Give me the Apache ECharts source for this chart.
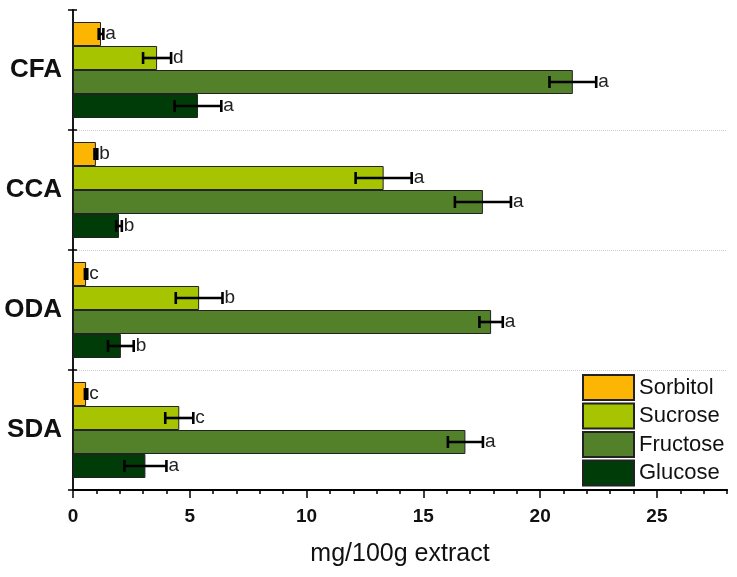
<!DOCTYPE html>
<html>
<head>
<meta charset="utf-8">
<script src="https://cdn.jsdelivr.net/npm/echarts@6/dist/echarts.min.js"></script>
<style>
  html, body { margin: 0; padding: 0; background: #fff; }
  #main { width: 737px; height: 577px; }
</style>
</head>
<body>
<div id="main"></div>
<script>
// data (mg/100g extract)
const categories = ['CFA', 'CCA', 'ODA', 'SDA']
const seriesNames = ['Sorbitol', 'Sucrose', 'Fructose', 'Glucose']
const colors = ['#FDB504', '#A6C500', '#52812A', '#003C07']

const sorbitol = [1.2, 0.98, 0.56, 0.56]
const sucrose = [3.6, 13.3, 5.4, 4.55]
const fructose = [21.4, 17.55, 17.9, 16.8]
const glucose = [5.35, 1.97, 2.05, 3.1]

const sorbitolErr = [0.1, 0.06, 0.05, 0.05]
const sucroseErr = [0.6, 1.2, 1.0, 0.6]
const fructoseErr = [1.0, 1.2, 0.5, 0.75]
const glucoseErr = [1.0, 0.12, 0.55, 0.9]

const sorbitolLetters = ['a', 'b', 'c', 'c']
const sucroseLetters = ['d', 'a', 'b', 'c']
const fructoseLetters = ['a', 'a', 'a', 'a']
const glucoseLetters = ['a', 'b', 'b', 'a']

const xTicks = [0, 5, 10, 15, 20, 25]

const values = [sorbitol, sucrose, fructose, glucose]
const errors = [sorbitolErr, sucroseErr, fructoseErr, glucoseErr]
const letters = [sorbitolLetters, sucroseLetters, fructoseLetters, glucoseLetters]

const font = '"Liberation Sans", Arial, sans-serif'
const chart = echarts.init(document.getElementById('main'), null, { renderer: 'canvas' })

// error bars + significance letters, one custom series per sugar
function errorSeries(k) {
  let data = categories.map(function (c, i) {
    return [values[k][i], i, values[k][i] - errors[k][i], values[k][i] + errors[k][i], letters[k][i]]
  })
  return {
    type: 'custom',
    name: seriesNames[k] + '_err',
    xAxisIndex: 0,
    yAxisIndex: 0,
    z: 10,
    data: data,
    encode: { x: [0, 2, 3], y: 1 },
    renderItem: function (params, api) {
      let cat = api.value(1)
      let band = api.size([0, 1])[1]
      let off = (k - 1.5) * band * 0.2
      let lo = api.coord([api.value(2), cat])
      let hi = api.coord([api.value(3), cat])
      let y = lo[1] + off
      let cap = 6
      let st = { stroke: '#000', lineWidth: 2.6 }
      return {
        type: 'group',
        children: [
          { type: 'line', shape: { x1: lo[0], y1: y, x2: hi[0], y2: y }, style: st },
          { type: 'line', shape: { x1: lo[0], y1: y - cap, x2: lo[0], y2: y + cap }, style: st },
          { type: 'line', shape: { x1: hi[0], y1: y - cap, x2: hi[0], y2: y + cap }, style: st },
          {
            type: 'text',
            x: hi[0] + 2,
            y: y,
            style: {
              text: api.value(4),
              fill: '#222',
              font: '19px ' + font,
              verticalAlign: 'middle',
              align: 'left'
            }
          }
        ]
      }
    }
  }
}

let series = []
for (let k = 0; k < 4; k++) {
  series.push({
    name: seriesNames[k],
    type: 'bar',
    xAxisIndex: 0,
    yAxisIndex: 0,
    data: values[k],
    barGap: '0%',
    barCategoryGap: '20%',
    itemStyle: { color: colors[k], borderColor: '#222', borderWidth: 1 }
  })
}
for (let k = 0; k < 4; k++) {
  series.push(errorSeries(k))
}

const option = {
  animation: false,
  backgroundColor: '#fff',
  grid: { left: 73, right: 10, top: 10, bottom: 87 },
  legend: {
    data: seriesNames,
    orient: 'vertical',
    left: 577,
    top: 369,
    itemWidth: 51,
    itemHeight: 25,
    itemGap: 1.5,
    icon: 'rect',
    textStyle: { fontSize: 22, color: '#111', fontFamily: font }
  },
  xAxis: [
    {
      type: 'value',
      min: 0,
      max: 28,
      interval: 1,
      position: 'bottom',
      axisLine: { show: true, lineStyle: { color: '#000', width: 1.8 } },
      axisTick: { show: true, length: 4, lineStyle: { color: '#000', width: 1.5 } },
      axisLabel: { show: false },
      splitLine: { show: false }
    },
    {
      type: 'value',
      min: 0,
      max: 28,
      interval: 5,
      position: 'bottom',
      axisLine: { show: true, lineStyle: { color: '#000', width: 1.8 } },
      axisTick: { show: true, length: 8, lineStyle: { color: '#000', width: 1.5 } },
      axisLabel: {
        fontSize: 19,
        fontWeight: 'bold',
        color: '#111',
        margin: 17,
        fontFamily: font,
        showMaxLabel: false,
        formatter: function (v) { return xTicks.indexOf(v) >= 0 ? String(v) : '' }
      },
      splitLine: { show: false },
      name: 'mg/100g extract',
      nameLocation: 'middle',
      nameGap: 52,
      nameTextStyle: { fontSize: 25, color: '#111', fontFamily: font }
    }
  ],
  yAxis: [
    {
      type: 'category',
      data: categories,
      inverse: true,
      position: 'left',
      axisLine: { show: true, lineStyle: { color: '#000', width: 1.8 } },
      axisTick: { show: true, length: 5, lineStyle: { color: '#000', width: 1.5 } },
      axisLabel: {
        fontSize: 26,
        fontWeight: 'bold',
        color: '#111',
        margin: 11,
        fontFamily: font
      },
      splitLine: {
        show: true,
        interval: function (index) { return index > 0 },
        lineStyle: { color: '#ccc', type: 'dotted', width: 1 }
      }
    },
    {
      // inner half of the crossing ticks
      type: 'category',
      data: categories,
      inverse: true,
      position: 'left',
      offset: 0,
      axisLine: { show: false },
      axisTick: { show: true, inside: true, length: 4, lineStyle: { color: '#000', width: 1.5 } },
      axisLabel: { show: false },
      splitLine: { show: false }
    }
  ],
  series: series
}

chart.setOption(option)
</script>
</body>
</html>
